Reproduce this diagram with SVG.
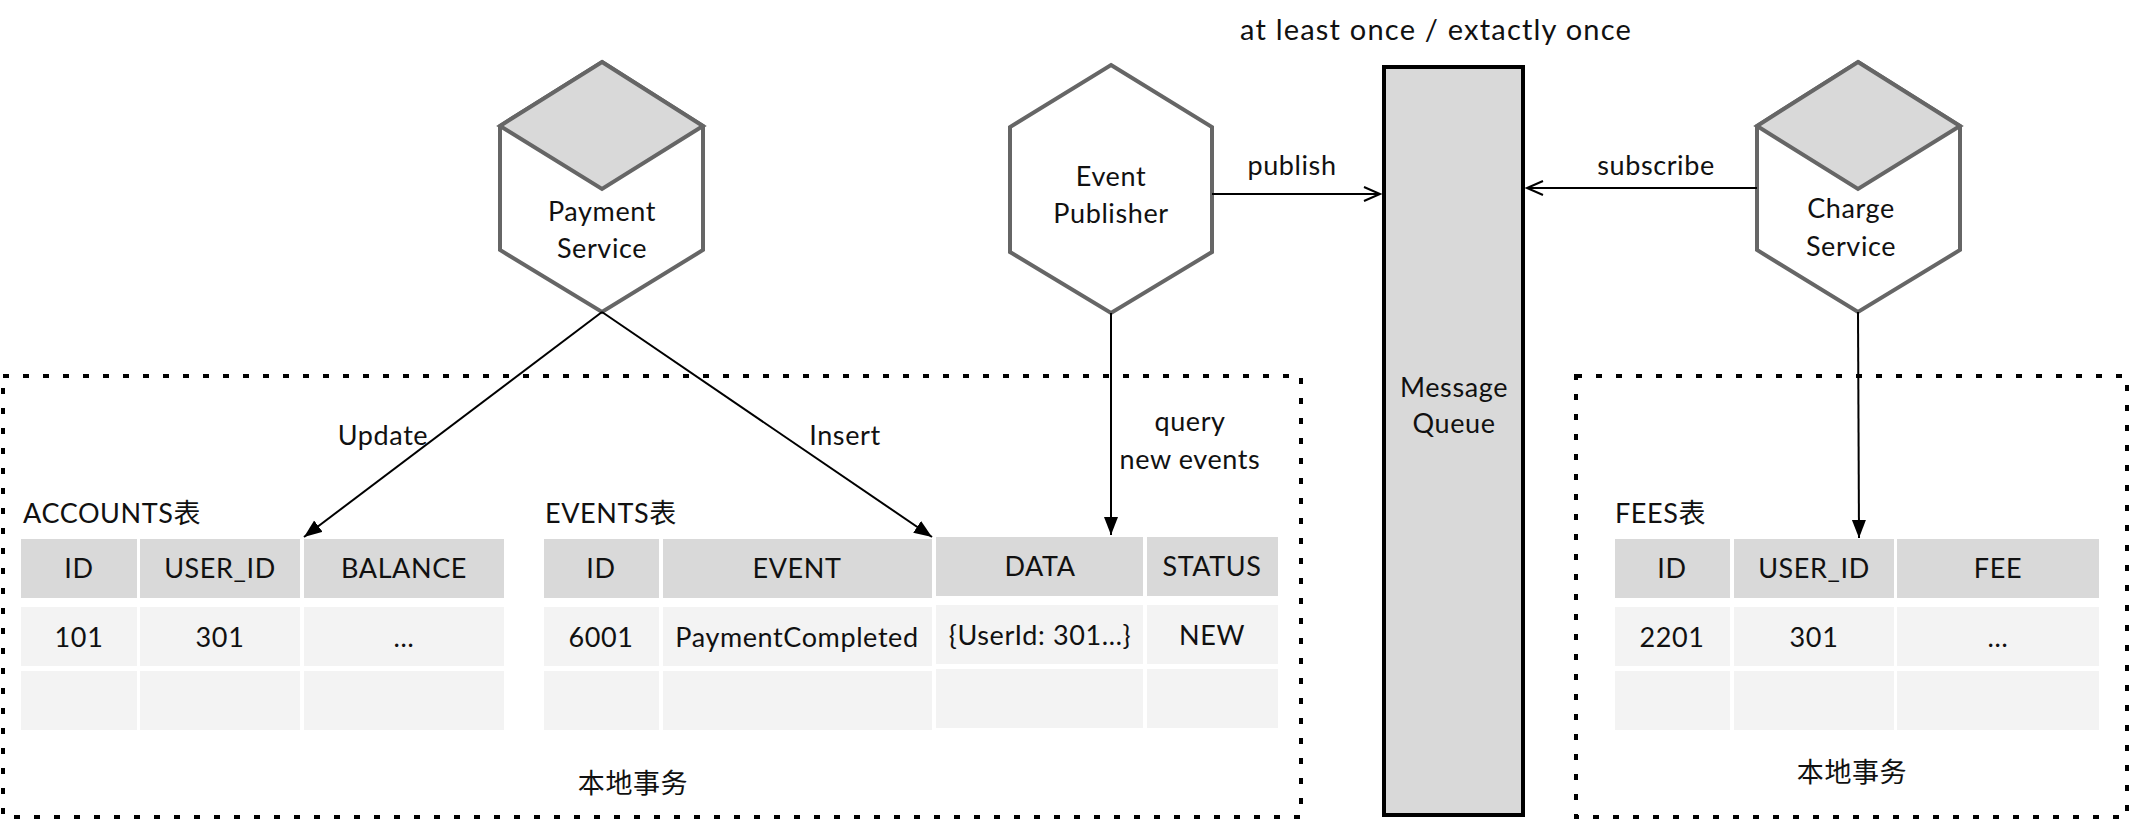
<svg xmlns="http://www.w3.org/2000/svg" width="2130" height="820" viewBox="0 0 2130 820">
<style>
text{font-family:Lato,"Noto Sans CJK SC",sans-serif;font-size:27px;fill:#111;letter-spacing:0.6px;}
.c{text-anchor:middle;}
.hex{fill:#fff;stroke:#666;stroke-width:4;stroke-linejoin:miter;}
.top{fill:#d9d9d9;stroke:#666;stroke-width:4;}
.hd{fill:#d9d9d9;}
.rw{fill:#f3f3f3;}
.box{fill:none;stroke:#000;stroke-width:4;stroke-dasharray:6 14;}
.ln{fill:none;stroke:#000;stroke-width:2;}
</style>
<defs>
<marker id="fa" markerUnits="userSpaceOnUse" markerWidth="20" markerHeight="16" refX="18" refY="7" orient="auto"><path d="M0,0 L18,7 L0,14 z" fill="#000"/></marker>
<marker id="oa" markerUnits="userSpaceOnUse" markerWidth="20" markerHeight="18" refX="17" refY="8" orient="auto"><path d="M1,1 L17,8 L1,15" fill="none" stroke="#000" stroke-width="2"/></marker>
</defs>
<rect width="2130" height="820" fill="#fff"/>
<text class="c" x="1436" y="40" style="font-size:29px;letter-spacing:1.2px">at least once / extactly once</text>
<g id="local-tx-left">
<rect class="box" x="3" y="376" width="1298" height="441"/>
<text class="c" x="633" y="793">本地事务</text>
</g>
<g id="local-tx-right">
<rect class="box" x="1576" y="376" width="551" height="441"/>
<text class="c" x="1852" y="782">本地事务</text>
</g>
<g id="payment-service">
<polygon class="hex" points="602,62 703,126 703,250 602,312 500,250 500,126"/>
<polygon class="top" points="602,62 703,126 602,189 500,126"/>
<text class="c" x="602" y="221">Payment</text>
<text class="c" x="602" y="258">Service</text>
</g>
<g id="event-publisher">
<polygon class="hex" points="1111,65 1212,127 1212,252 1111,313 1010,252 1010,127"/>
<text class="c" x="1111" y="186">Event</text>
<text class="c" x="1111" y="223">Publisher</text>
</g>
<g id="charge-service">
<polygon class="hex" points="1858,62 1960,126 1960,250 1858,312 1757,250 1757,126"/>
<polygon class="top" points="1858,62 1960,126 1858,189 1757,126"/>
<text class="c" x="1851" y="218">Charge</text>
<text class="c" x="1851" y="256">Service</text>
</g>
<g id="message-queue">
<rect x="1384" y="67" width="139" height="748" fill="#d9d9d9" stroke="#000" stroke-width="4"/>
<text class="c" x="1454" y="397">Message</text>
<text class="c" x="1454" y="433">Queue</text>
</g>
<g id="accounts-table">
<text x="23" y="523">ACCOUNTS表</text>
<rect class="hd" x="21" y="539" width="116" height="59"/>
<rect class="hd" x="140" y="539" width="160" height="59"/>
<rect class="hd" x="304" y="539" width="200" height="59"/>
<rect class="rw" x="21" y="607" width="116" height="59"/>
<rect class="rw" x="140" y="607" width="160" height="59"/>
<rect class="rw" x="304" y="607" width="200" height="59"/>
<rect class="rw" x="21" y="671" width="116" height="59"/>
<rect class="rw" x="140" y="671" width="160" height="59"/>
<rect class="rw" x="304" y="671" width="200" height="59"/>
<text class="c" x="79" y="578">ID</text>
<text class="c" x="220" y="578">USER_ID</text>
<text class="c" x="404" y="578">BALANCE</text>
<text class="c" x="79" y="647">101</text>
<text class="c" x="220" y="647">301</text>
<text class="c" x="404" y="647">…</text>
</g>
<g id="events-table">
<text x="545" y="523">EVENTS表</text>
<rect class="hd" x="544" y="539" width="115" height="59"/>
<rect class="hd" x="663" y="539" width="269" height="59"/>
<rect class="hd" x="936" y="537" width="207" height="59"/>
<rect class="hd" x="1147" y="537" width="131" height="59"/>
<rect class="rw" x="544" y="607" width="115" height="59"/>
<rect class="rw" x="663" y="607" width="269" height="59"/>
<rect class="rw" x="936" y="605" width="207" height="59"/>
<rect class="rw" x="1147" y="605" width="131" height="59"/>
<rect class="rw" x="544" y="671" width="115" height="59"/>
<rect class="rw" x="663" y="671" width="269" height="59"/>
<rect class="rw" x="936" y="669" width="207" height="59"/>
<rect class="rw" x="1147" y="669" width="131" height="59"/>
<text class="c" x="601" y="578">ID</text>
<text class="c" x="797" y="578">EVENT</text>
<text class="c" x="1040" y="576">DATA</text>
<text class="c" x="1212" y="576">STATUS</text>
<text class="c" x="601" y="647">6001</text>
<text class="c" x="797" y="647">PaymentCompleted</text>
<text class="c" x="1040" y="645">{UserId: 301…}</text>
<text class="c" x="1212" y="645">NEW</text>
</g>
<g id="fees-table">
<text x="1615" y="523">FEES表</text>
<rect class="hd" x="1615" y="539" width="115" height="59"/>
<rect class="hd" x="1734" y="539" width="160" height="59"/>
<rect class="hd" x="1897" y="539" width="202" height="59"/>
<rect class="rw" x="1615" y="607" width="115" height="59"/>
<rect class="rw" x="1734" y="607" width="160" height="59"/>
<rect class="rw" x="1897" y="607" width="202" height="59"/>
<rect class="rw" x="1615" y="671" width="115" height="59"/>
<rect class="rw" x="1734" y="671" width="160" height="59"/>
<rect class="rw" x="1897" y="671" width="202" height="59"/>
<text class="c" x="1672" y="578">ID</text>
<text class="c" x="1814" y="578">USER_ID</text>
<text class="c" x="1998" y="578">FEE</text>
<text class="c" x="1672" y="647">2201</text>
<text class="c" x="1814" y="647">301</text>
<text class="c" x="1998" y="647">…</text>
</g>
<g id="connectors">
<line class="ln" x1="602" y1="312" x2="304" y2="537" marker-end="url(#fa)"/>
<line class="ln" x1="602" y1="312" x2="932" y2="537" marker-end="url(#fa)"/>
<line class="ln" x1="1111" y1="313" x2="1111" y2="535" marker-end="url(#fa)"/>
<line class="ln" x1="1212" y1="194" x2="1380" y2="194" marker-end="url(#oa)"/>
<line class="ln" x1="1757" y1="188" x2="1527" y2="188" marker-end="url(#oa)"/>
<line class="ln" x1="1858" y1="312" x2="1859" y2="538" marker-end="url(#fa)"/>
<text class="c" x="383" y="445">Update</text>
<text class="c" x="845" y="445">Insert</text>
<text class="c" x="1190" y="431">query</text>
<text class="c" x="1190" y="469">new events</text>
<text class="c" x="1292" y="175">publish</text>
<text class="c" x="1656" y="175">subscribe</text>
</g>
</svg>
